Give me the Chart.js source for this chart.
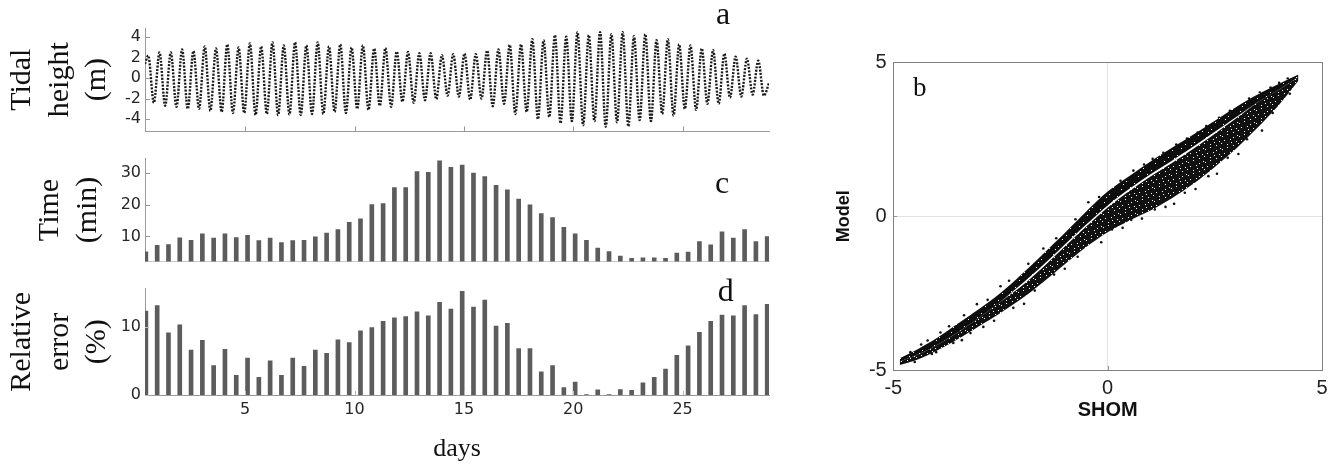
<!DOCTYPE html>
<html>
<head>
<meta charset="utf-8">
<script src="https://cdn.jsdelivr.net/npm/chart.js@4.4.1/dist/chart.umd.min.js"></script>
<style>
  html, body { margin: 0; padding: 0; background: #fff; }
  #page { position: relative; width: 1344px; height: 468px; overflow: hidden; }
  canvas { position: absolute; }
</style>
</head>
<body>
<div id="page">
  <canvas id="tide" width="780" height="145" style="left:0px;top:0px"></canvas>
  <canvas id="lag" width="780" height="130" style="left:0px;top:145px"></canvas>
  <canvas id="err" width="780" height="193" style="left:0px;top:275px"></canvas>
  <canvas id="scatter" width="514" height="438" style="left:830px;top:30px"></canvas>
</div>
<script>
// day axis shared by panels a, c and d
const dayMin = 0.42, dayMax = 28.95;
const dayTicks = [5, 10, 15, 20, 25];
const tidalTicks = [-4, -2, 0, 2, 4];
const lagTicks = [10, 20, 30];
const errTicks = [0, 10];
const shomTicks = [-5, 0, 5];

// one bar / one high water per tidal cycle
const firstCycle = 0.46;
const firstHigh = 0.567;
const tidePeriod = 0.5165;

// tidal height (m): successive high and low waters
const tideStart = 1.4, tideEnd = -0.5;
const highWater = [2.2, 2.5, 2.5, 2.8, 2.65, 3.1, 2.9, 3.3, 3.0, 3.4,
  3.1, 3.5, 3.2, 3.5, 3.2, 3.5, 3.1, 3.3, 3.0, 3.2,
  2.9, 2.95, 2.6, 2.55, 2.45, 2.45, 2.25, 2.35, 2.4, 2.35,
  2.7, 2.8, 3.25, 3.3, 3.8, 3.7, 4.2, 4.05, 4.5, 4.2,
  4.5, 4.3, 4.5, 4.1, 4.3, 3.7, 3.8, 3.3, 3.2, 2.9,
  2.75, 2.4, 2.1, 1.9, 1.7];
const lowWater = [-2.4, -2.7, -2.8, -3.0, -3.0, -3.2, -3.3, -3.4, -3.4, -3.6,
  -3.5, -3.6, -3.55, -3.6, -3.5, -3.5, -3.3, -3.4, -3.0, -3.1,
  -2.7, -2.8, -2.3, -2.4, -2.15, -2.05, -1.7, -1.8, -2.1, -2.0,
  -2.75, -2.5, -3.5, -3.3, -4.0, -3.8, -4.4, -4.2, -4.6, -4.2,
  -4.75, -4.3, -4.7, -4.1, -4.2, -3.5, -3.65, -3.0, -3.1, -2.5,
  -2.5, -1.9, -1.8, -1.6, -1.7];

// time lag of high water (min), per cycle
const lagMinutes = [5.2, 7.2, 7.5, 9.6, 8.8, 10.8, 9.5, 10.8, 9.7, 10.4,
  8.7, 9.5, 8.1, 8.7, 8.8, 9.9, 11.1, 12.2, 14.4, 15.5,
  20.0, 20.3, 25.3, 25.3, 30.3, 30.1, 33.7, 31.7, 32.4, 29.9,
  28.8, 26.0, 24.6, 21.7, 19.9, 17.2, 15.9, 12.9, 10.8, 8.8,
  6.4, 5.3, 3.9, 3.2, 3.3, 3.3, 3.2, 4.8, 5.1, 8.4,
  7.4, 11.5, 9.5, 12.2, 8.4, 10.0];

// relative error of tidal range (%), per cycle
const relError = [12.3, 13.1, 9.1, 10.3, 6.6, 8.0, 4.3, 6.7, 2.9, 5.4,
  2.6, 5.0, 2.9, 5.4, 4.2, 6.6, 6.1, 8.1, 7.7, 9.4,
  9.9, 10.8, 11.3, 11.5, 12.2, 11.6, 13.6, 12.6, 15.2, 12.9,
  13.9, 10.1, 10.5, 6.8, 6.8, 3.4, 4.3, 1.1, 1.9, 0.05,
  0.75, 0.05, 0.8, 0.7, 1.8, 2.6, 3.8, 5.8, 7.2, 9.2,
  10.8, 11.7, 11.6, 13.1, 11.8, 13.3];

// model vs SHOM cloud: edges of the two branches (m)
const bandX = [-4.85, -4.4, -4.0, -3.5, -3.0, -2.5, -2.0, -1.5, -1.0, -0.5,
  0, 0.5, 1.0, 1.5, 2.0, 2.5, 3.0, 3.5, 4.0, 4.45];
const upperOuter = [-4.62, -4.3, -3.98, -3.5, -3.02, -2.5, -1.88, -1.22, -0.55, 0.15,
  0.8, 1.3, 1.78, 2.22, 2.65, 3.1, 3.55, 3.95, 4.3, 4.6];
const upperInner = [-4.72, -4.48, -4.2, -3.78, -3.3, -2.78, -2.2, -1.58, -0.92, -0.27,
  0.35, 0.88, 1.36, 1.8, 2.26, 2.74, 3.22, 3.7, 4.12, 4.52];
const lowerInner = [-4.72, -4.48, -4.2, -3.78, -3.3, -2.78, -2.26, -1.65, -0.99, -0.34,
  0.28, 0.81, 1.29, 1.73, 2.19, 2.68, 3.18, 3.7, 4.12, 4.52];
const lowerOuter = [-4.84, -4.64, -4.38, -4.0, -3.58, -3.15, -2.68, -2.14, -1.56, -1.0,
  -0.52, -0.15, 0.18, 0.58, 1.05, 1.6, 2.2, 2.88, 3.62, 4.4];
// loose points along the edges of the cloud
const strayShom = [-4.6, -4.2, -3.7, -3.35, -2.8, -2.3, -1.85, -1.2, -0.75, -0.2, 0.3, 0.85, 1.3, 1.85, 2.3, 2.85, 3.3, 3.8, 4.2,
  -4.5, -4.1, -3.6, -3.2, -2.65, -2.2, -1.7, -1.25, -0.7, -0.15, 0.35, 0.8, 1.35, 1.8, 2.35, 2.8, 3.25, 3.85, 4.25,
  -4.35, -3.9, -3.05, -2.5, -1.5, -0.45, 0.6, 1.05, 1.6, 2.1, 2.6, 3.55, 4.0,
  -4.0, -3.4, -2.9, -1.95, -1.0, 0.1, 0.55, 1.1, 1.55, 2.05, 2.55, 3.05, 3.6];
const strayModel = [-4.42, -4.04, -3.58, -3.22, -2.72, -2.1, -1.55, -0.72, -0.1, 0.62, 1.15, 1.68, 2.06, 2.52, 2.93, 3.42, 3.82, 4.18, 4.47,
  -4.74, -4.48, -4.12, -3.8, -3.4, -2.98, -2.42, -1.9, -1.32, -0.85, -0.38, -0.08, 0.3, 0.76, 1.3, 1.9, 2.5, 3.35, 3.98,
  -4.17, -3.78, -2.86, -2.28, -1.05, 0.45, 1.48, 1.86, 2.33, 2.72, 3.2, 4.02, 4.33,
  -4.42, -4.03, -3.6, -2.85, -1.71, -0.43, -0.12, 0.22, 0.4, 0.88, 1.38, 2.02, 2.78];

Chart.defaults.font.family = "'Liberation Sans', Arial, sans-serif";
Chart.defaults.color = '#222';

const serif = "'Liberation Serif', 'Times New Roman', serif";
const tickFont = "'DejaVu Sans', sans-serif";

// short tick marks drawn inside the plot area, plus an optional full frame
const innerTicks = {
  id: 'innerTicks',
  afterDatasetsDraw(chart, args, opts) {
    const { ctx, chartArea: a } = chart;
    ctx.save();
    ctx.strokeStyle = opts.color || '#999';
    ctx.lineWidth = 1;
    (opts.axes || []).forEach(id => {
      const s = chart.scales[id];
      s.ticks.forEach(t => {
        const p = Math.round(s.getPixelForValue(t.value)) + 0.5;
        ctx.beginPath();
        if (s.isHorizontal()) {
          ctx.moveTo(p, a.bottom);
          ctx.lineTo(p, a.bottom - opts.len);
        } else {
          ctx.moveTo(a.left, p);
          ctx.lineTo(a.left + opts.len, p);
        }
        ctx.stroke();
      });
    });
    if (opts.frame) {
      ctx.strokeStyle = opts.frame;
      ctx.strokeRect(Math.round(a.left) + 0.5, Math.round(a.top) + 0.5,
        Math.round(a.right - a.left), Math.round(a.bottom - a.top));
    }
    ctx.restore();
  }
};

// panel letter (a, b, c, d)
const panelLabel = {
  id: 'panelLabel',
  afterDraw(chart, args, opts) {
    if (!opts.text) return;
    const ctx = chart.ctx;
    ctx.save();
    ctx.font = opts.size + 'px ' + serif;
    ctx.fillStyle = '#111';
    ctx.textAlign = 'center';
    ctx.textBaseline = 'alphabetic';
    ctx.fillText(opts.text, opts.x, opts.y);
    ctx.restore();
  }
};

function fixTicks(values) {
  return scale => { scale.ticks = values.map(v => ({ value: v })); };
}

function dayAxis(height, showLabels, border) {
  return {
    type: 'linear', min: dayMin, max: dayMax,
    grid: { display: false, drawTicks: false },
    border: border,
    ticks: { display: showLabels, padding: 5, color: '#262626', font: { family: tickFont, size: 16 } },
    afterBuildTicks: fixTicks(dayTicks),
    afterFit: s => { s.height = height; }
  };
}

function valueAxis(min, max, ticks, title, titlePad) {
  return {
    min: min, max: max,
    grid: { display: false, drawTicks: false },
    border: { color: '#999' },
    ticks: { padding: 4, color: '#262626', font: { family: tickFont, size: 16 } },
    afterBuildTicks: fixTicks(ticks),
    afterFit: s => { s.width = 145; },
    title: {
      display: true, text: title, color: '#111',
      font: { family: serif, size: 30, lineHeight: 1.24 },
      padding: { top: titlePad, bottom: 0 }
    }
  };
}

const quiet = { legend: { display: false }, tooltip: { enabled: false } };

// a: tidal height
const tidePoints = [{ x: dayMin, y: tideStart }];
highWater.forEach((h, i) => {
  const t = firstHigh + i * tidePeriod;
  tidePoints.push({ x: t, y: h });
  tidePoints.push({ x: t + tidePeriod / 2, y: lowWater[i] });
});
tidePoints.push({ x: dayMax, y: tideEnd });

new Chart(document.getElementById('tide'), {
  type: 'line',
  data: {
    datasets: [{
      data: tidePoints,
      borderColor: '#1a1a1a',
      borderWidth: 2.4,
      borderDash: [2, 1.4],
      pointRadius: 0,
      cubicInterpolationMode: 'monotone'
    }]
  },
  plugins: [innerTicks, panelLabel],
  options: {
    responsive: false, animation: false,
    layout: { padding: { top: 28, right: 11, left: 0, bottom: 0 } },
    plugins: {
      ...quiet,
      innerTicks: { axes: ['x', 'y'], len: 5, color: '#999' },
      panelLabel: { text: 'a', x: 723, y: 24, size: 32 }
    },
    scales: {
      x: dayAxis(9, false, { color: '#999' }),
      y: valueAxis(-5.2, 4.9, tidalTicks, ['Tidal', 'height', '(m)'], 4)
    }
  }
});

function cycleBars(values) {
  return values.map((v, i) => ({ x: firstCycle + i * tidePeriod, y: v }));
}

// c: time lag
new Chart(document.getElementById('lag'), {
  type: 'bar',
  data: {
    datasets: [{ data: cycleBars(lagMinutes), backgroundColor: '#5c5c5c', barThickness: 4 }]
  },
  plugins: [innerTicks, panelLabel],
  options: {
    responsive: false, animation: false,
    layout: { padding: { top: 11, right: 11, left: 0, bottom: 0 } },
    plugins: {
      ...quiet,
      innerTicks: { axes: ['y'], len: 5, color: '#999' },
      panelLabel: { text: 'c', x: 722, y: 47.7, size: 32 }
    },
    scales: {
      x: { ...dayAxis(8, false, { color: '#c8c8c8', dash: [2, 2] }), offset: false },
      y: valueAxis(2.2, 34.4, lagTicks, ['Time', '(min)'], 32)
    }
  }
});

// d: relative error
new Chart(document.getElementById('err'), {
  type: 'bar',
  data: {
    datasets: [{ data: cycleBars(relError), backgroundColor: '#5c5c5c', barThickness: 4 }]
  },
  plugins: [innerTicks, panelLabel],
  options: {
    responsive: false, animation: false,
    layout: { padding: { top: 10, right: 11, left: 0, bottom: 0 } },
    plugins: {
      ...quiet,
      innerTicks: { axes: ['x', 'y'], len: 4, color: '#bbb' },
      panelLabel: { text: 'd', x: 725.7, y: 25.7, size: 32 }
    },
    scales: {
      x: {
        ...dayAxis(73, true, { color: '#999' }),
        offset: false,
        title: {
          display: true, text: 'days', color: '#111',
          font: { family: serif, size: 26 },
          padding: { top: 0, bottom: 3.4 }
        }
      },
      y: valueAxis(0, 15.6, errTicks, ['Relative', 'error', '(%)'], 4)
    }
  }
});

// b: model against SHOM
function speckle(dark, w, h, specks) {
  const c = document.createElement('canvas');
  c.width = w; c.height = h;
  const g = c.getContext('2d');
  g.fillStyle = dark;
  g.fillRect(0, 0, w, h);
  g.fillStyle = '#fff';
  specks.forEach(([x, y]) => g.fillRect(x, y, 1, 1));
  return g.createPattern(c, 'repeat');
}
const densePattern = speckle('#0d0d0d', 17, 13, [[2, 3], [11, 1], [7, 8], [15, 10], [4, 11]]);
const loosePattern = speckle('#111', 17, 13, [[1, 2], [6, 0], [12, 3], [3, 6], [9, 5], [15, 7],
  [6, 10], [0, 9], [12, 11], [10, 8], [16, 1]]);

const edge = ys => ys.map((y, i) => ({ x: bandX[i], y: y }));
const band = (ys, fill, bg) => ({
  type: 'line', data: edge(ys), borderWidth: 0, pointRadius: 0,
  fill: fill, backgroundColor: bg, tension: 0.3
});

new Chart(document.getElementById('scatter'), {
  type: 'line',
  data: {
    datasets: [
      band(upperOuter, false, 'transparent'),
      band(upperInner, '-1', densePattern),
      band(lowerInner, false, 'transparent'),
      band(lowerOuter, '-1', loosePattern),
      {
        data: strayShom.map((x, i) => ({ x: x, y: strayModel[i] })),
        showLine: false, pointRadius: 1.3, pointBorderWidth: 0,
        pointBackgroundColor: '#111'
      }
    ]
  },
  plugins: [innerTicks, panelLabel],
  options: {
    responsive: false, animation: false,
    layout: { padding: { top: 32.3, right: 22, left: 0, bottom: 0 } },
    plugins: {
      ...quiet,
      innerTicks: { axes: ['x', 'y'], len: 4, color: '#999', frame: '#808080' },
      panelLabel: { text: 'b', x: 89.7, y: 66, size: 27 }
    },
    scales: {
      x: {
        type: 'linear', min: -5, max: 5,
        grid: { color: '#e2e2e2', drawTicks: false },
        border: { color: '#808080' },
        ticks: { padding: 6, color: '#222', font: { size: 20 } },
        afterBuildTicks: fixTicks(shomTicks),
        afterFit: s => { s.height = 98; },
        title: {
          display: true, text: 'SHOM', color: '#111',
          font: { size: 20, weight: 'bold' },
          padding: { top: 0, bottom: 46 }
        }
      },
      y: {
        min: -5, max: 5,
        grid: { color: '#e2e2e2', drawTicks: false },
        border: { color: '#808080' },
        ticks: { padding: 6.6, color: '#222', font: { size: 20 } },
        afterBuildTicks: fixTicks(shomTicks),
        afterFit: s => { s.width = 63.3; },
        title: {
          display: true, text: 'Model', color: '#111',
          font: { size: 18, weight: 'bold' },
          padding: { top: 3.6, bottom: 0 }
        }
      }
    }
  }
});
</script>
</body>
</html>
